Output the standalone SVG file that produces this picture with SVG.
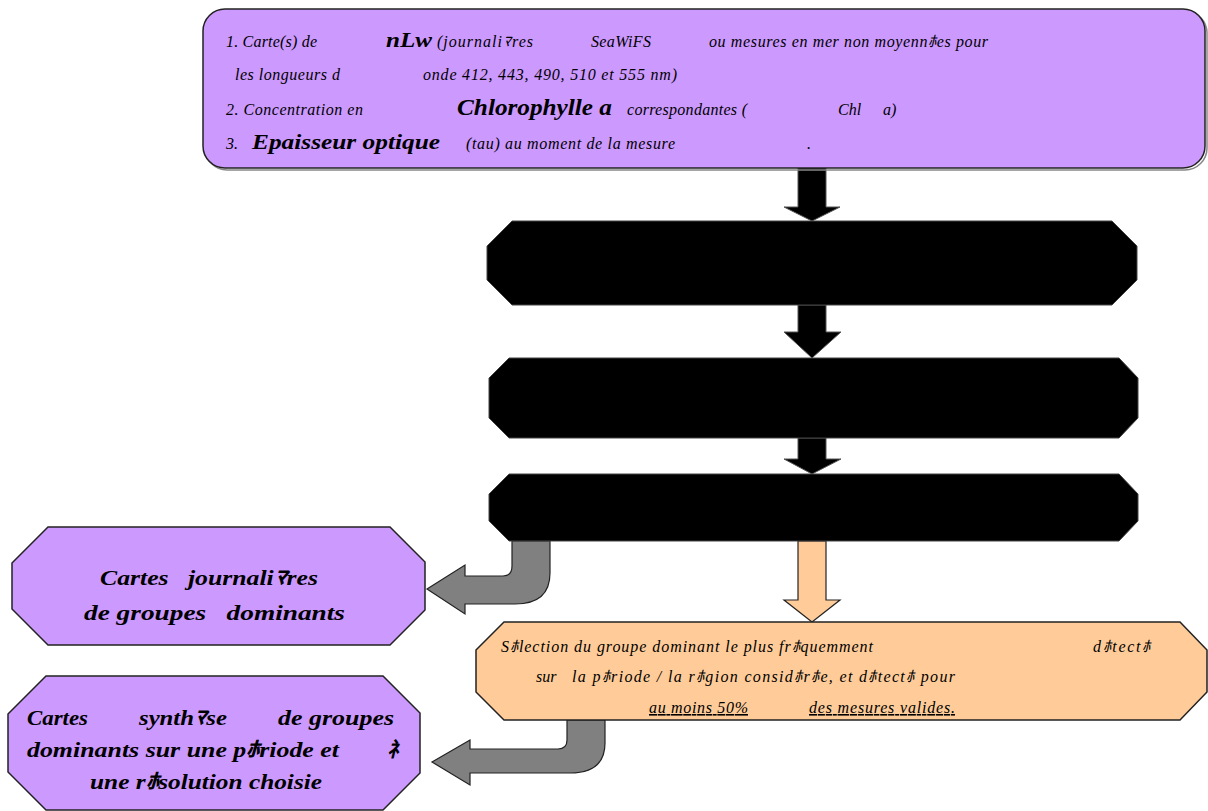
<svg xmlns="http://www.w3.org/2000/svg" width="1208" height="811" viewBox="0 0 1208 811">
<style>
.purple{fill:#CC99FF;stroke:#222;stroke-width:1.5}
.orange{fill:#FFCC99;stroke:#222;stroke-width:1.5}
.black{fill:#000;stroke:#444;stroke-width:1}
.shadow{fill:none;stroke:#888;stroke-width:1.5}
.garrow{fill:#808080;stroke:#222;stroke-width:1.2}
.barrow{fill:#000;stroke:#555;stroke-width:1}
.oarrow{fill:#FFCC99;stroke:#222;stroke-width:1.2}
.t{font-style:italic;font-size:16px;fill:#000}
.b{font-style:italic;font-weight:bold;fill:#000}
.lb{font-style:italic;font-weight:bold;font-size:22px;fill:#000}
</style>
<g id="connectors">
  <path class="barrow" d="M798,168 L826,168 L826,207 L840,207 L812,221 L784,207 L798,207 Z"/>
  <path class="barrow" d="M798,305 L826,305 L826,332 L841,332 L812,358 L784,332 L798,332 Z"/>
  <path class="barrow" d="M798,438 L826,438 L826,459 L841,459 L812,474 L784,459 L798,459 Z"/>
  <path class="oarrow" d="M798,541 L826,541 L826,600 L840,600 L812,622 L784,600 L798,600 Z"/>
  <path class="garrow" d="M512,541 L550,541 L550,573 Q550,604 515,604 L465,604 L465,614 L427,589 L465,565 L465,576 L503,576 Q512,576 512,566 Z"/>
  <path class="garrow" d="M567,720 L605,720 L605,743 Q605,773 570,773 L470,773 L470,785 L432,762 L470,740 L470,749 L558,749 Q567,749 567,740 Z"/>
</g>
<g id="node-inputs" font-family="Liberation Serif">
  <rect x="205" y="11" width="1002" height="159" rx="22" class="shadow"/>
  <rect x="203" y="9" width="1002" height="159" rx="22" class="purple"/>
  <text class="t" x="226" y="47" textLength="91" lengthAdjust="spacing">1. Carte(s) de</text>
  <text class="b" x="386" y="47" font-size="20" textLength="46" lengthAdjust="spacingAndGlyphs">nLw</text>
  <text class="t" x="437" y="47" textLength="96" lengthAdjust="spacing">(journaliﾏres</text>
  <text class="t" x="591" y="47" textLength="60" lengthAdjust="spacing">SeaWiFS</text>
  <text class="t" x="709" y="47" textLength="279" lengthAdjust="spacing">ou mesures en mer non moyennﾎes pour</text>
  <text class="t" x="235" y="80" textLength="105" lengthAdjust="spacing">les longueurs d</text>
  <text class="t" x="423" y="80" textLength="254" lengthAdjust="spacing">onde 412, 443, 490, 510 et 555 nm)</text>
  <text class="t" x="226" y="115" textLength="137" lengthAdjust="spacing">2. Concentration en</text>
  <text class="b" x="457" y="115" font-size="23" textLength="155" lengthAdjust="spacingAndGlyphs">Chlorophylle a</text>
  <text class="t" x="627" y="115" textLength="120" lengthAdjust="spacing">correspondantes (</text>
  <text class="t" x="838" y="115">Chl</text>
  <text class="t" x="883" y="115">a)</text>
  <text class="t" x="226" y="149">3.</text>
  <text class="b" x="252" y="149" font-size="22" textLength="188" lengthAdjust="spacingAndGlyphs">Epaisseur optique</text>
  <text class="t" x="466" y="149" textLength="209" lengthAdjust="spacing">(tau) au moment de la mesure</text>
  <text class="t" x="807" y="149">.</text>
</g>
<g id="node-step1">
  <polygon class="black" points="487,246 512,221 1112,221 1137,246 1137,280 1112,305 512,305 487,280"/>
</g>
<g id="node-step2">
  <polygon class="black" points="489,378 509,358 1119,358 1138,378 1138,418 1119,438 509,438 489,418"/>
</g>
<g id="node-step3">
  <polygon class="black" points="489,494 509,474 1119,474 1138,494 1138,521 1119,541 509,541 489,521"/>
</g>
<g id="node-daily" font-family="Liberation Serif">
  <polygon class="purple" points="12,563 48,527 390,527 425,562 425,610 390,645 48,645 12,609"/>
  <text class="lb" x="100" y="585" textLength="218" lengthAdjust="spacingAndGlyphs" xml:space="preserve">Cartes   journaliﾏres</text>
  <text class="lb" x="84" y="620" textLength="261" lengthAdjust="spacingAndGlyphs" xml:space="preserve">de groupes   dominants</text>
</g>
<g id="node-selection" font-family="Liberation Serif">
  <polygon class="orange" points="476,650 504,622 1180,622 1207,650 1207,692 1180,720 504,720 476,692"/>
  <text class="t" x="501" y="652" textLength="372" lengthAdjust="spacing">Sﾎlection du groupe dominant le plus frﾎquemment</text>
  <text class="t" x="1093" y="652" textLength="57" lengthAdjust="spacing">dﾎtectﾎ</text>
  <text class="t" x="536" y="682">sur</text>
  <text class="t" x="572" y="682" textLength="383" lengthAdjust="spacing">la pﾎriode / la rﾎgion considﾎrﾎe, et dﾎtectﾎ pour</text>
  <text class="t" x="649" y="713" textLength="99" lengthAdjust="spacing" text-decoration="underline">au moins 50%</text>
  <text class="t" x="809" y="713" textLength="146" lengthAdjust="spacing" text-decoration="underline">des mesures valides.</text>
</g>
<g id="node-synthesis" font-family="Liberation Serif">
  <polygon class="purple" points="8,714 46,676 383,676 420,713 420,773 383,810 46,810 8,772"/>
  <text class="lb" x="27" y="725" textLength="61" lengthAdjust="spacingAndGlyphs">Cartes</text>
  <text class="lb" x="139" y="725" textLength="88" lengthAdjust="spacingAndGlyphs">synthﾏse</text>
  <text class="lb" x="278" y="725" textLength="116" lengthAdjust="spacingAndGlyphs">de groupes</text>
  <text class="lb" x="27" y="757" textLength="312" lengthAdjust="spacingAndGlyphs">dominants sur une pﾎriode et</text>
  <text class="lb" x="387" y="757" font-size="15">ﾈ</text>
  <text class="lb" x="90" y="789" textLength="232" lengthAdjust="spacingAndGlyphs">une rﾎsolution choisie</text>
</g>
</svg>
